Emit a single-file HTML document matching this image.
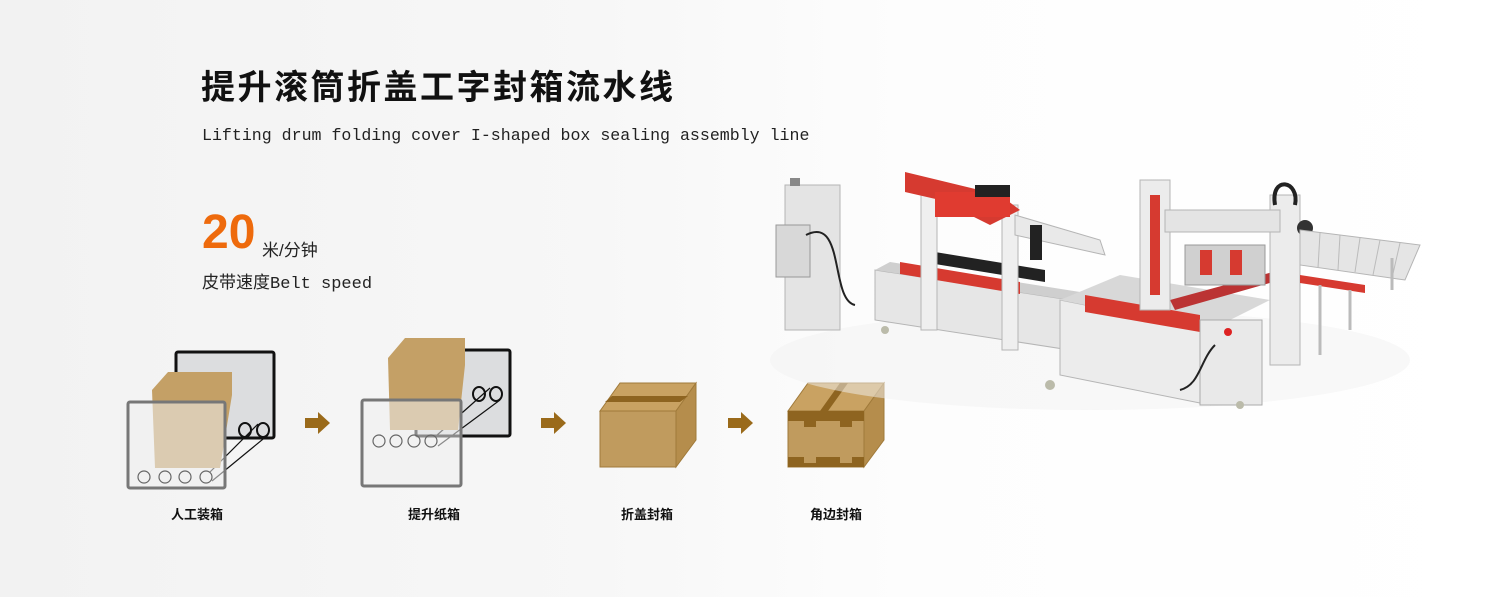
<!DOCTYPE html>
<html><head><meta charset="utf-8"><style>
body{margin:0;width:1500px;height:597px;overflow:hidden;background:linear-gradient(90deg,#f2f2f2 0%,#f7f7f7 40%,#fdfdfd 60%,#fff 100%);font-family:"Liberation Sans","Noto Sans CJK SC",sans-serif;position:relative}
.t{position:absolute;white-space:nowrap;color:#111}
</style></head><body>
<div class="t" style="left:201px;top:60px;font-size:34px;font-weight:bold;letter-spacing:2.5px">提升滚筒折盖工字封箱流水线</div>
<div class="t" style="left:202px;top:126px;font-size:16.6px;font-family:'Liberation Mono','Noto Sans CJK SC',monospace;color:#222">Lifting drum folding cover I-shaped box sealing assembly line</div>
<div class="t" style="left:202px;top:205px;font-size:48px;font-weight:bold;color:#ee6a0c">20</div>
<div class="t" style="left:262px;top:236px;font-size:17px;color:#222">米/分钟</div>
<div class="t" style="left:202px;top:268px;font-size:17px;color:#222">皮带速度<span style="font-family:'Liberation Mono',monospace">Belt speed</span></div>
<div class="t" style="left:171px;top:504px;font-size:13px;font-weight:bold">人工装箱</div>
<div class="t" style="left:408px;top:504px;font-size:13px;font-weight:bold">提升纸箱</div>
<div class="t" style="left:621px;top:504px;font-size:13px;font-weight:bold">折盖封箱</div>
<div class="t" style="left:810px;top:504px;font-size:13px;font-weight:bold">角边封箱</div>
<svg width="1500" height="597" style="position:absolute;left:0;top:0">
<defs><g id="arr"><rect x="0" y="-5" width="14" height="10" fill="#9a6a1a"/><polygon points="13,-11 25,0 13,11" fill="#9a6a1a"/></g></defs>
<!-- icon 1 -->
<rect x="176" y="352" width="98" height="86" fill="#dcdddf" stroke="#111" stroke-width="3" rx="2"/>
<g fill="none" stroke="#111" stroke-width="1.2">
<ellipse cx="245" cy="430" rx="6" ry="7" stroke-width="2"/><ellipse cx="263" cy="430" rx="6" ry="7" stroke-width="2"/>
<line x1="210" y1="472" x2="258" y2="424"/><line x1="212" y1="481" x2="268" y2="435"/></g>
<polygon points="152,390 168,372 232,372 232,395 220,468 155,468" fill="#c4a066"/>
<rect x="128" y="402" width="97" height="86" fill="#eeeeef" fill-opacity="0.55" stroke="#777" stroke-width="3" rx="2"/>
<g fill="none" stroke="#666" stroke-width="1.2">
<circle cx="144" cy="477" r="6"/><circle cx="165" cy="477" r="6"/><circle cx="185" cy="477" r="6"/><circle cx="206" cy="477" r="6"/></g>
<use href="#arr" x="305" y="423"/>
<!-- icon 2 -->
<rect x="416" y="350" width="94" height="86" fill="#dcdddf" stroke="#111" stroke-width="3" rx="2"/>
<g fill="none" stroke="#111" stroke-width="1.2">
<ellipse cx="479" cy="394" rx="6" ry="7" stroke-width="2"/><ellipse cx="496" cy="394" rx="6" ry="7" stroke-width="2"/>
<line x1="436" y1="436" x2="490" y2="388"/><line x1="438" y1="446" x2="500" y2="400"/></g>
<polygon points="388,358 405,338 465,338 465,365 458,430 390,430" fill="#c4a066"/>
<rect x="362" y="400" width="99" height="86" fill="#eeeeef" fill-opacity="0.55" stroke="#777" stroke-width="3" rx="2"/>
<g fill="none" stroke="#666" stroke-width="1.2">
<circle cx="379" cy="441" r="6"/><circle cx="396" cy="441" r="6"/><circle cx="414" cy="441" r="6"/><circle cx="431" cy="441" r="6"/></g>
<use href="#arr" x="541" y="423"/>
<!-- icon 3 -->
<polygon points="600,411 620,383 696,383 676,411" fill="#c9a262" stroke="#a07a3a"/>
<polygon points="676,411 696,383 696,440 676,467" fill="#b58d4c" stroke="#a07a3a"/>
<rect x="600" y="411" width="76" height="56" fill="#c09b5e" stroke="#a07a3a"/>
<polygon points="605,402 612,396 688,396 680,402" fill="#8e6420"/>
<use href="#arr" x="728" y="423"/>
<!-- icon 4 -->
<polygon points="788,411 808,383 884,383 864,411" fill="#c9a262" stroke="#a07a3a"/>
<polygon points="864,411 884,383 884,440 864,467" fill="#b58d4c" stroke="#a07a3a"/>
<rect x="788" y="411" width="76" height="56" fill="#c09b5e" stroke="#a07a3a"/>
<polygon points="820,411 840,383 848,383 828,411" fill="#8e6420"/>
<path d="M788 411h76v10h-12v6h-12v-6h-24v6h-12v-6h-16z" fill="#8e6420"/>
<path d="M788 467h76v-10h-12v6h-12v-6h-24v6h-12v-6h-16z" fill="#8e6420"/>
<!-- machine -->
<ellipse cx="1090" cy="360" rx="320" ry="50" fill="#f2f2f2" opacity="0.5"/>
<!-- left cabinet -->
<rect x="785" y="185" width="55" height="145" fill="#e4e4e4" stroke="#b5b5b5"/>
<rect x="790" y="178" width="10" height="8" fill="#888"/>
<rect x="776" y="225" width="34" height="52" fill="#d8d8d8" stroke="#999"/>
<path d="M806 235 C845 215 830 300 855 305" stroke="#222" stroke-width="2" fill="none"/>
<!-- first conveyor section -->
<polygon points="875,270 1070,300 1070,350 875,320" fill="#e6e6e6" stroke="#b5b5b5"/>
<polygon points="875,270 1070,300 1080,292 890,262" fill="#cfcfcf"/>
<polygon points="900,262 1020,282 1020,294 900,274" fill="#d63a30"/>
<polygon points="935,252 1045,270 1045,282 935,264" fill="#222"/>
<rect x="921" y="185" width="16" height="145" fill="#efefef" stroke="#b5b5b5"/>
<rect x="1002" y="205" width="16" height="145" fill="#efefef" stroke="#b5b5b5"/>
<polygon points="1015,215 1100,240 1105,255 1015,235" fill="#e9e9e9" stroke="#b5b5b5"/>
<rect x="1030" y="225" width="12" height="35" fill="#222"/>
<polygon points="905,172 1000,195 1020,210 990,225 940,200 905,192" fill="#d63a30"/>
<rect x="935" y="192" width="75" height="25" fill="#e03b30"/>
<rect x="975" y="185" width="35" height="12" fill="#222"/>
<!-- middle conveyor -->
<polygon points="1060,300 1210,330 1210,405 1060,375" fill="#ececec" stroke="#b5b5b5"/>
<polygon points="1060,300 1210,330 1270,300 1120,275" fill="#d8d8d8"/>
<polygon points="1085,295 1200,315 1200,332 1085,312" fill="#d63a30"/>
<polygon points="1170,300 1280,270 1280,280 1175,310" fill="#b33"/>
<rect x="1200" y="320" width="62" height="85" fill="#e9e9e9" stroke="#aaa"/>
<circle cx="1228" cy="332" r="4" fill="#d22"/>
<path d="M1215 345 C1200 360 1200 385 1180 390" stroke="#222" stroke-width="2" fill="none"/>
<!-- second station -->
<rect x="1140" y="180" width="30" height="130" fill="#ececec" stroke="#b5b5b5"/>
<rect x="1150" y="195" width="10" height="100" fill="#d63a30"/>
<rect x="1270" y="195" width="30" height="170" fill="#ececec" stroke="#b5b5b5"/>
<rect x="1165" y="210" width="115" height="22" fill="#e4e4e4" stroke="#b5b5b5"/>
<rect x="1185" y="245" width="80" height="40" fill="#d0d0d0" stroke="#999"/>
<rect x="1200" y="250" width="12" height="25" fill="#d63a30"/>
<rect x="1230" y="250" width="12" height="25" fill="#d63a30"/>
<path d="M1275 205 C1270 175 1300 180 1295 205" stroke="#222" stroke-width="4" fill="none"/>
<circle cx="1305" cy="228" r="8" fill="#333"/>
<!-- out conveyor -->
<polygon points="1300,230 1420,245 1405,280 1300,265" fill="#e5e5e5" stroke="#b5b5b5"/>
<g stroke="#bbb" stroke-width="1"><line x1="1320" y1="233" x2="1318" y2="268"/><line x1="1340" y1="235" x2="1338" y2="270"/><line x1="1360" y1="238" x2="1355" y2="272"/><line x1="1380" y1="240" x2="1373" y2="275"/><line x1="1400" y1="243" x2="1392" y2="278"/></g>
<polygon points="1300,275 1365,285 1365,293 1300,283" fill="#d63a30"/>
<line x1="1320" y1="285" x2="1320" y2="355" stroke="#bbb" stroke-width="3"/>
<line x1="1350" y1="290" x2="1350" y2="330" stroke="#bbb" stroke-width="3"/>
<line x1="1392" y1="258" x2="1392" y2="290" stroke="#bbb" stroke-width="3"/>
<circle cx="1050" cy="385" r="5" fill="#bba"/><circle cx="885" cy="330" r="4" fill="#bba"/><circle cx="1240" cy="405" r="4" fill="#bba"/>
</svg>
</body></html>
